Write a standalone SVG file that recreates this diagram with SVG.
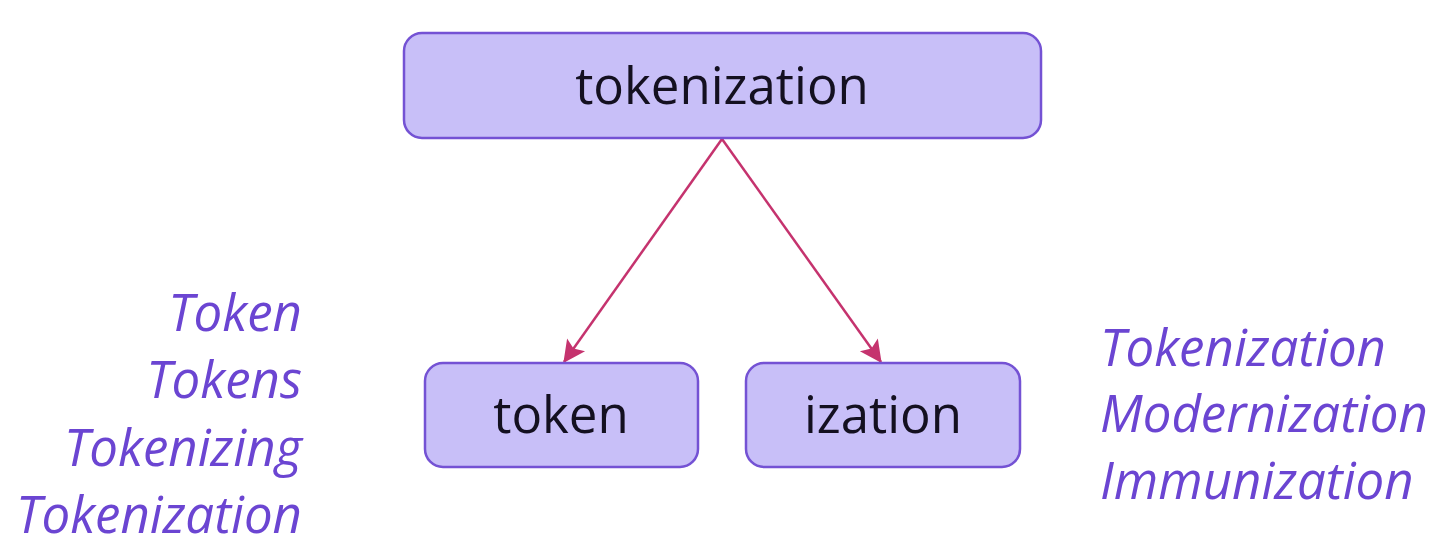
<svg xmlns="http://www.w3.org/2000/svg" width="1442" height="552" viewBox="0 0 1442 552">
<style>
.box{fill:#c8bff8;stroke:#7452d4;stroke-width:2.5}
.lbl{font-family:"Open Sans","Noto Sans",sans-serif;font-size:51px;fill:#141020;text-anchor:middle}
.it{font-family:"Open Sans","Noto Sans",sans-serif;font-style:italic;font-size:51px;fill:#6b45d2}
.conn{stroke:#c5336e;stroke-width:2.5;fill:none}
</style>
<defs>
<marker id="ah" viewBox="0 0 10 10" refX="9.5" refY="5" markerWidth="25" markerHeight="22" markerUnits="userSpaceOnUse" orient="auto">
<path d="M0,0 L10,5 L0,10 L2,5 Z" fill="#c5336e"/>
</marker>
</defs>
<rect width="1442" height="552" fill="#ffffff"/>
<g id="connectors">
<line class="conn" x1="722" y1="139" x2="564" y2="362" marker-end="url(#ah)"/>
<line class="conn" x1="722" y1="139" x2="881" y2="362" marker-end="url(#ah)"/>
</g>
<g id="node-tokenization">
<rect class="box" x="404" y="33" width="637" height="105" rx="18"/>
<text class="lbl" x="722" y="104">tokenization</text>
</g>
<g id="node-token">
<rect class="box" x="425" y="363" width="273" height="104" rx="18"/>
<text class="lbl" x="561" y="433">token</text>
</g>
<g id="node-ization">
<rect class="box" x="746" y="363" width="274" height="104" rx="18"/>
<text class="lbl" x="883" y="433">ization</text>
</g>
<g id="left-words">
<text class="it" x="302" y="331" text-anchor="end">Token</text>
<text class="it" x="302" y="398" text-anchor="end">Tokens</text>
<text class="it" x="302" y="466" text-anchor="end">Tokenizing</text>
<text class="it" x="302" y="533" text-anchor="end">Tokenization</text>
</g>
<g id="right-words">
<text class="it" x="1100" y="366">Tokenization</text>
<text class="it" x="1100" y="432">Modernization</text>
<text class="it" x="1100" y="499">Immunization</text>
</g>
</svg>
